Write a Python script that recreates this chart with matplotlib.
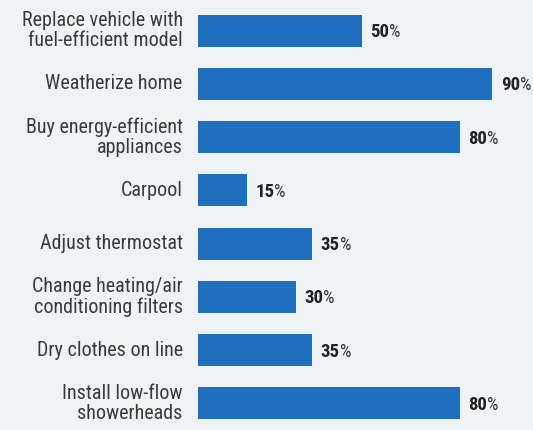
import matplotlib.pyplot as plt

actions = [
    'Replace vehicle with\nfuel-efficient model',
    'Weatherize home',
    'Buy energy-efficient\nappliances',
    'Carpool',
    'Adjust thermostat',
    'Change heating/air\nconditioning filters',
    'Dry clothes on line',
    'Install low-flow\nshowerheads',
]
savings = [50, 90, 80, 15, 35, 30, 35, 80]

bg = '#eff3f6'
bar_color = '#1f6fbe'
text_color = '#3a3a3a'

plt.rcParams['font.family'] = ['Roboto Condensed', 'Fira Sans Condensed', 'DejaVu Sans']

fig = plt.figure(figsize=(5.33, 4.30), dpi=100, facecolor=bg)
ax = fig.add_axes([198 / 533, 0, 327 / 533, 426 / 430])
ax.set_facecolor(bg)

y_pos = range(len(actions))
ax.barh(y_pos, savings, height=0.6, color=bar_color)
ax.set_xlim(0, 100)
ax.set_ylim(len(actions) - 0.5, -0.5)

# 왼쪽 항목 이름
for i, name in enumerate(actions):
    ax.annotate(name, xy=(0, i), xytext=(-11, 0), textcoords='offset points',
                ha='right', va='center', fontsize=14.5, color=text_color,
                linespacing=1.1, annotation_clip=False)

# 막대 끝 값 표시
for i, v in enumerate(savings):
    num = ax.annotate(str(v), xy=(v, i), xytext=(6, -1),
                      textcoords='offset points', ha='left', va='center',
                      fontsize=13.5, fontweight='bold', color='#222222',
                      annotation_clip=False)
    ax.annotate('%', xy=(1, 0), xycoords=num, xytext=(0, 0),
                textcoords='offset points', ha='left', va='bottom',
                fontsize=13, color='#333333', annotation_clip=False)

ax.axis('off')
fig.savefig('out.png', dpi=100, facecolor=bg)
